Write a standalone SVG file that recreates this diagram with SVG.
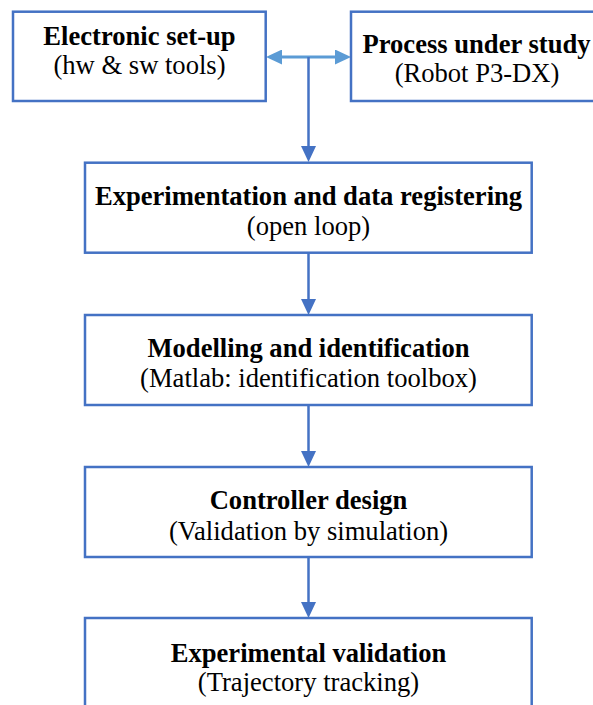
<svg xmlns="http://www.w3.org/2000/svg" width="593" height="705" viewBox="0 0 593 705">
<style>
.box{fill:#ffffff;stroke:#4472C4;stroke-width:2.5}
.t{font-family:"Liberation Serif","Times New Roman",serif;font-size:26.6px;fill:#000;text-anchor:middle}
.b{font-weight:bold}
.c{fill:none;stroke:#4472C4;stroke-width:2.5}
.h{fill:none;stroke:#5B9BD5;stroke-width:3}
</style>
<defs>
<marker id="ad" markerUnits="userSpaceOnUse" markerWidth="16" markerHeight="15" refX="8" refY="7.5" orient="auto" viewBox="0 0 16 15">
<path d="M0,0 L16,7.5 L0,15 z" fill="#4472C4"/>
</marker>
<marker id="al" markerUnits="userSpaceOnUse" markerWidth="16" markerHeight="15" refX="8" refY="7.5" orient="auto-start-reverse" viewBox="0 0 16 15">
<path d="M0,0 L16,7.5 L0,15 z" fill="#5B9BD5"/>
</marker>
</defs>
<rect width="593" height="705" fill="#ffffff"/>
<g id="connectors">
<path class="h" d="M274,57 L343,57" marker-start="url(#al)" marker-end="url(#al)"/>
<path class="c" d="M308.5,57 L308.5,154" marker-end="url(#ad)"/>
<path class="c" d="M308.5,253 L308.5,307" marker-end="url(#ad)"/>
<path class="c" d="M308.5,405 L308.5,459" marker-end="url(#ad)"/>
<path class="c" d="M308.5,557 L308.5,610" marker-end="url(#ad)"/>
</g>
<g id="n1">
<rect class="box" x="13" y="11.7" width="252.7" height="89.3"/>
<text class="t b" x="139.5" y="45">Electronic set-up</text>
<text class="t" x="139.5" y="74">(hw &amp; sw tools)</text>
</g>
<g id="n2">
<rect class="box" x="351" y="11.7" width="251" height="89.3"/>
<text class="t b" x="476.5" y="53">Process under study</text>
<text class="t" x="477" y="82">(Robot P3-DX)</text>
</g>
<g id="n3">
<rect class="box" x="85" y="162.7" width="446.7" height="90"/>
<text class="t b" x="308.5" y="205">Experimentation and data registering</text>
<text class="t" x="308.5" y="235">(open loop)</text>
</g>
<g id="n4">
<rect class="box" x="85" y="315" width="446.7" height="90"/>
<text class="t b" x="308.5" y="357">Modelling and identification</text>
<text class="t" x="308.5" y="387">(Matlab: identification toolbox)</text>
</g>
<g id="n5">
<rect class="box" x="85" y="467" width="446.7" height="90"/>
<text class="t b" x="308.5" y="509">Controller design</text>
<text class="t" x="308.5" y="540">(Validation by simulation)</text>
</g>
<g id="n6">
<rect class="box" x="85" y="618" width="446.7" height="100"/>
<text class="t b" x="308.5" y="662">Experimental validation</text>
<text class="t" x="308.5" y="691">(Trajectory tracking)</text>
</g>
</svg>
